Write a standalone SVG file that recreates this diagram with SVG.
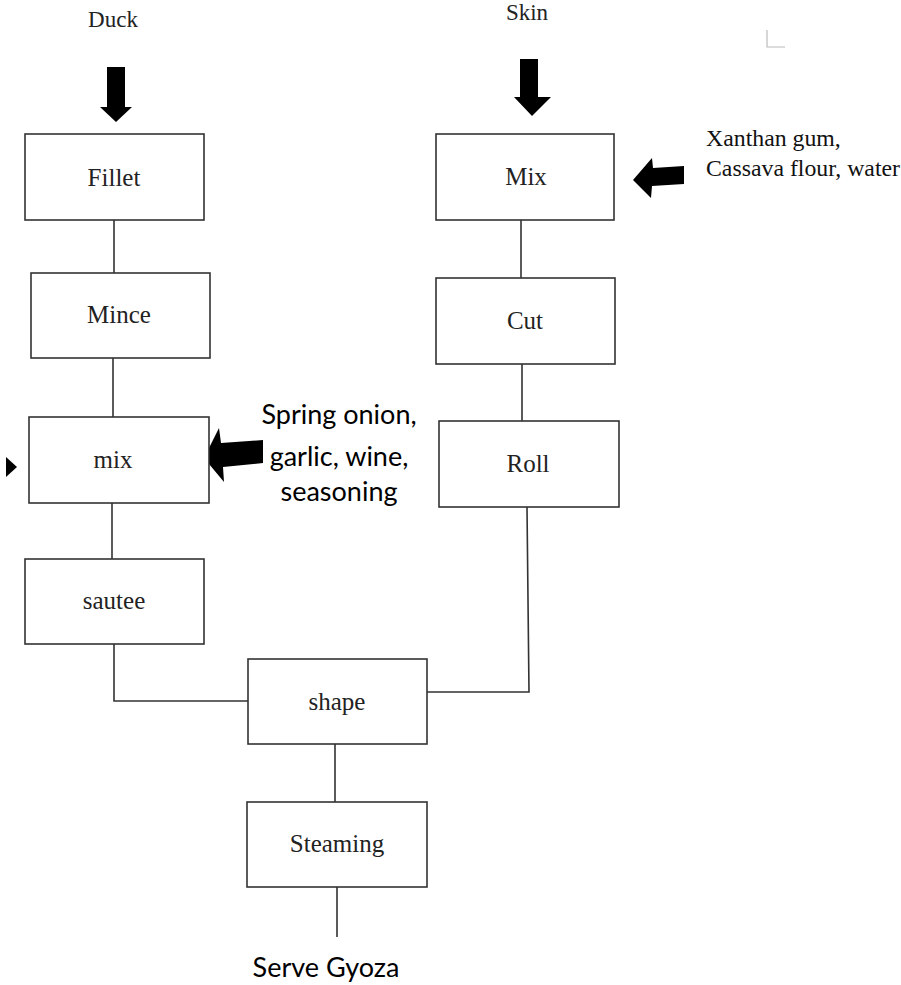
<svg xmlns="http://www.w3.org/2000/svg" width="901" height="985" viewBox="0 0 901 985">
<style>
.box{fill:#fff;stroke:#333;stroke-width:1.6}
.lbl{font-family:"Liberation Serif","Times New Roman",serif;font-size:25px;fill:#222;text-anchor:middle}
.top{font-family:"Liberation Serif","Times New Roman",serif;font-size:23px;fill:#222;text-anchor:middle}
.side{font-family:"Liberation Serif","Times New Roman",serif;font-size:23.8px;fill:#111}
.cal{font-family:Lato,"Liberation Sans",sans-serif;font-size:27px;fill:#000;text-anchor:middle}
.conn{fill:none;stroke:#333;stroke-width:1.6}
.arr{fill:#000}
</style>
<rect width="901" height="985" fill="#fff"/>
<g id="connectors">
<line class="conn" x1="114" y1="220" x2="114" y2="273"/>
<line class="conn" x1="113" y1="358" x2="113" y2="417"/>
<line class="conn" x1="112" y1="503" x2="112" y2="559"/>
<polyline class="conn" points="114,644 114,701 248,701"/>
<line class="conn" x1="521" y1="220" x2="521" y2="278"/>
<line class="conn" x1="522" y1="364" x2="522" y2="421"/>
<polyline class="conn" points="527,507 529,692 427,692"/>
<line class="conn" x1="335" y1="744" x2="335" y2="802"/>
<line class="conn" x1="337" y1="887" x2="337" y2="937"/>
</g>
<g id="arrows">
<polygon class="arr" points="107,67 125,67 125,107 132,107 116,122 100,107 107,107"/>
<polygon class="arr" points="520,59 538,59 538,97 551,97 532,116 514,97 520,97"/>
<polygon class="arr" points="684,166 684,184 652,186 651,198 633,180 652,158 653,168"/>
<polygon class="arr" points="263,440 263,463 223,467 224,482 204,458 219,428 221,443"/>
<polygon class="arr" points="6,457 17,467 6,477"/>
</g>
<g id="duck"><text class="top" x="113" y="27">Duck</text></g>
<g id="skin"><text class="top" x="527" y="20">Skin</text></g>
<g id="fillet"><rect class="box" x="25" y="134" width="179" height="86"/><text class="lbl" x="114" y="186">Fillet</text></g>
<g id="mince"><rect class="box" x="31" y="273" width="179" height="85"/><text class="lbl" x="119" y="323">Mince</text></g>
<g id="mix-left"><rect class="box" x="29" y="417" width="180" height="86"/><text class="lbl" x="113" y="468">mix</text></g>
<g id="sautee"><rect class="box" x="25" y="559" width="179" height="85"/><text class="lbl" x="114" y="609">sautee</text></g>
<g id="mix-right"><rect class="box" x="436" y="134" width="178" height="86"/><text class="lbl" x="526" y="185">Mix</text></g>
<g id="cut"><rect class="box" x="436" y="278" width="179" height="86"/><text class="lbl" x="525" y="329">Cut</text></g>
<g id="roll"><rect class="box" x="439" y="421" width="180" height="86"/><text class="lbl" x="528" y="472">Roll</text></g>
<g id="shape"><rect class="box" x="248" y="659" width="179" height="85"/><text class="lbl" x="337" y="710">shape</text></g>
<g id="steaming"><rect class="box" x="247" y="802" width="180" height="85"/><text class="lbl" x="337" y="852">Steaming</text></g>
<g id="xanthan"><text class="side" x="706" y="146">Xanthan gum,</text><text class="side" x="706" y="176">Cassava flour, water</text></g>
<g id="spring"><text class="cal" x="339" y="424">Spring onion,</text><text class="cal" x="339" y="466">garlic, wine,</text><text class="cal" x="339" y="501">seasoning</text></g>
<g id="serve"><text class="cal" x="326" y="977">Serve Gyoza</text></g>
<g id="mark"><polyline points="767,30 767,47 785,47" fill="none" stroke="#bbb" stroke-width="1.2"/></g>
</svg>
